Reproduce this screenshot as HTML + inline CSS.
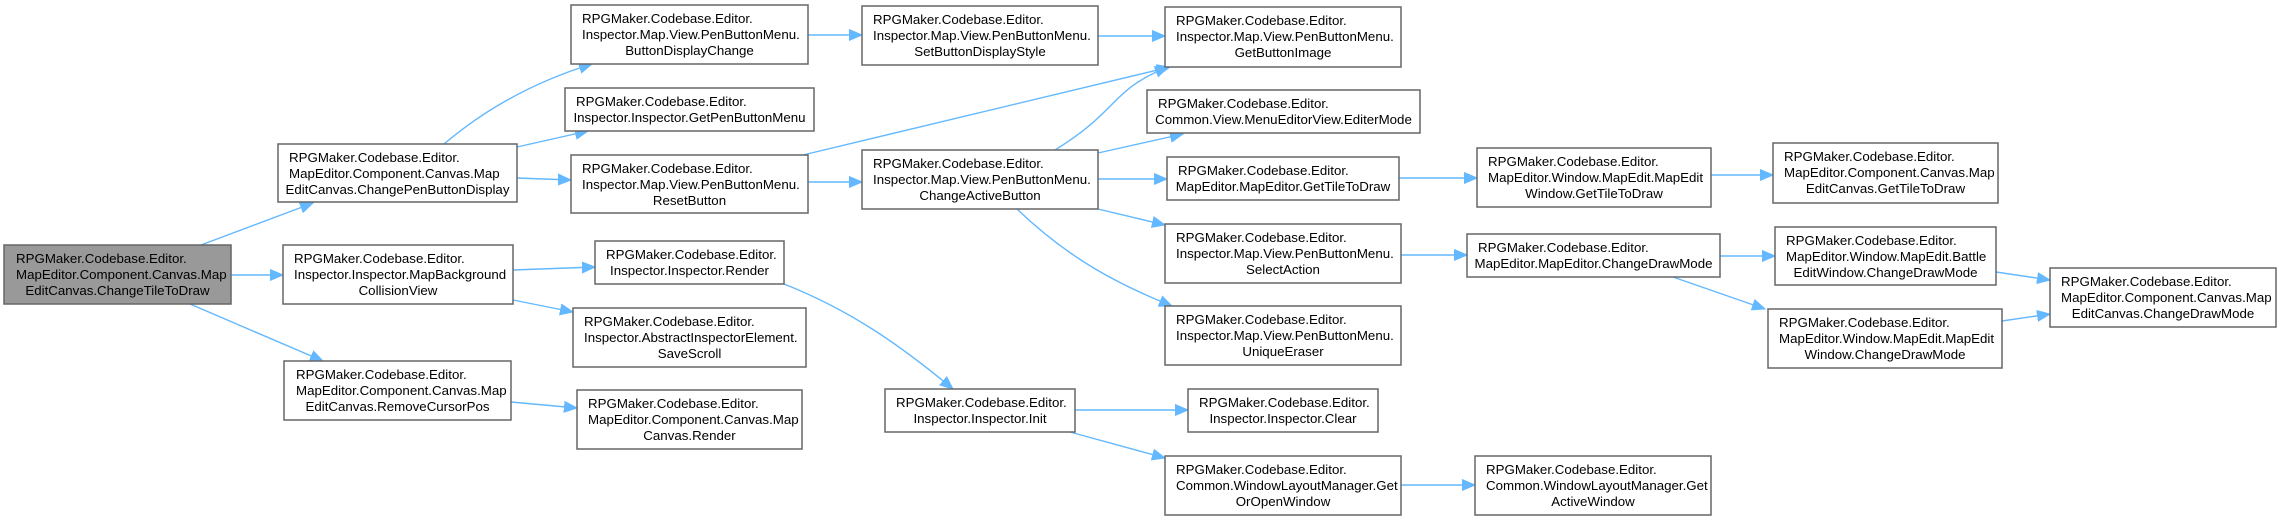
<!DOCTYPE html>
<html><head><meta charset="utf-8"><style>
html,body{margin:0;padding:0;background:#fff;}
svg{display:block;}
text{font-family:"Liberation Sans",Arial,sans-serif;font-size:13.3px;fill:#000;}
.b{fill:#fff;stroke:#666;stroke-width:1.5;}
.r{fill:#999;stroke:#666;stroke-width:1.5;}
.e{fill:none;stroke:#63b8ff;stroke-width:1.4;marker-end:url(#ah);}
.c{text-anchor:middle;}
</style></head><body>
<svg width="2281" height="520" viewBox="0 0 2281 520" xmlns="http://www.w3.org/2000/svg">
<defs><marker id="ah" markerUnits="userSpaceOnUse" markerWidth="14" markerHeight="12" refX="13" refY="6" orient="auto"><path d="M0,0.5 L13,6 L0,11.5 z" fill="#63b8ff" stroke="#63b8ff"/></marker></defs>

<!-- edges -->
<path class="e" d="M201,245 L313,203"/>
<path class="e" d="M231,275 L283,275"/>
<path class="e" d="M190,304 L323,361"/>
<path class="e" d="M444,144 C490,105 540,80 592,64"/>
<path class="e" d="M517,147 L588,131"/>
<path class="e" d="M517,178 L571,180"/>
<path class="e" d="M803,155 L1170,67"/>
<path class="e" d="M808,182 L862,182"/>
<path class="e" d="M808,35 L862,35"/>
<path class="e" d="M1098,36 L1165,36"/>
<path class="e" d="M1055,150 C1120,110 1110,90 1168,67"/>
<path class="e" d="M1098,153 L1183,134"/>
<path class="e" d="M1098,179 L1167,179"/>
<path class="e" d="M1098,209 L1165,225"/>
<path class="e" d="M1017,209 C1070,260 1120,285 1172,306"/>
<path class="e" d="M513,270 L595,267"/>
<path class="e" d="M513,300 L573,312"/>
<path class="e" d="M511,402 L577,408"/>
<path class="e" d="M784,284 C850,310 900,345 953,389"/>
<path class="e" d="M1075,410 L1188,410"/>
<path class="e" d="M1070,432 L1165,458"/>
<path class="e" d="M1401,485 L1475,485"/>
<path class="e" d="M1399,178 L1477,178"/>
<path class="e" d="M1711,175 L1773,175"/>
<path class="e" d="M1401,255 L1467,255"/>
<path class="e" d="M1720,256 L1775,256"/>
<path class="e" d="M1673,277 L1765,309"/>
<path class="e" d="M1996,272 L2050,280"/>
<path class="e" d="M2002,321 L2050,314"/>

<!-- nodes -->
<rect class="r" x="4" y="245" width="227" height="59"/>
<text x="16" y="263">RPGMaker.Codebase.Editor.</text><text x="16" y="279">MapEditor.Component.Canvas.Map</text><text class="c" x="117.5" y="295">EditCanvas.ChangeTileToDraw</text>

<rect class="b" x="278" y="144" width="239" height="58"/>
<text x="289" y="162">RPGMaker.Codebase.Editor.</text><text x="289" y="178">MapEditor.Component.Canvas.Map</text><text class="c" x="397.5" y="194">EditCanvas.ChangePenButtonDisplay</text>

<rect class="b" x="283" y="245" width="230" height="59"/>
<text x="294" y="263">RPGMaker.Codebase.Editor.</text><text x="294" y="279">Inspector.Inspector.MapBackground</text><text class="c" x="398" y="295">CollisionView</text>

<rect class="b" x="284" y="361" width="227" height="59"/>
<text x="296" y="379">RPGMaker.Codebase.Editor.</text><text x="296" y="395">MapEditor.Component.Canvas.Map</text><text class="c" x="397.5" y="411">EditCanvas.RemoveCursorPos</text>

<rect class="b" x="571" y="5" width="237" height="59"/>
<text x="582" y="23">RPGMaker.Codebase.Editor.</text><text x="582" y="39">Inspector.Map.View.PenButtonMenu.</text><text class="c" x="689.5" y="55">ButtonDisplayChange</text>

<rect class="b" x="565" y="88" width="249" height="43"/>
<text x="576" y="106">RPGMaker.Codebase.Editor.</text><text class="c" x="689.5" y="122">Inspector.Inspector.GetPenButtonMenu</text>

<rect class="b" x="571" y="155" width="237" height="58"/>
<text x="582" y="173">RPGMaker.Codebase.Editor.</text><text x="582" y="189">Inspector.Map.View.PenButtonMenu.</text><text class="c" x="689.5" y="205">ResetButton</text>

<rect class="b" x="595" y="241" width="189" height="43"/>
<text x="606" y="259">RPGMaker.Codebase.Editor.</text><text class="c" x="689.5" y="275">Inspector.Inspector.Render</text>

<rect class="b" x="573" y="308" width="233" height="59"/>
<text x="584" y="326">RPGMaker.Codebase.Editor.</text><text x="584" y="342">Inspector.AbstractInspectorElement.</text><text class="c" x="689.5" y="358">SaveScroll</text>

<rect class="b" x="577" y="390" width="225" height="59"/>
<text x="588" y="408">RPGMaker.Codebase.Editor.</text><text x="588" y="424">MapEditor.Component.Canvas.Map</text><text class="c" x="689.5" y="440">Canvas.Render</text>

<rect class="b" x="862" y="6" width="236" height="59"/>
<text x="873" y="24">RPGMaker.Codebase.Editor.</text><text x="873" y="40">Inspector.Map.View.PenButtonMenu.</text><text class="c" x="980" y="56">SetButtonDisplayStyle</text>

<rect class="b" x="862" y="150" width="236" height="59"/>
<text x="873" y="168">RPGMaker.Codebase.Editor.</text><text x="873" y="184">Inspector.Map.View.PenButtonMenu.</text><text class="c" x="980" y="200">ChangeActiveButton</text>

<rect class="b" x="885" y="389" width="190" height="43"/>
<text x="896" y="407">RPGMaker.Codebase.Editor.</text><text class="c" x="980" y="423">Inspector.Inspector.Init</text>

<rect class="b" x="1165" y="7" width="236" height="60"/>
<text x="1176" y="25">RPGMaker.Codebase.Editor.</text><text x="1176" y="41">Inspector.Map.View.PenButtonMenu.</text><text class="c" x="1283" y="57">GetButtonImage</text>

<rect class="b" x="1147" y="90" width="273" height="43"/>
<text x="1158" y="108">RPGMaker.Codebase.Editor.</text><text class="c" x="1283.5" y="124">Common.View.MenuEditorView.EditerMode</text>

<rect class="b" x="1167" y="157" width="232" height="43"/>
<text x="1178" y="175">RPGMaker.Codebase.Editor.</text><text class="c" x="1283" y="191">MapEditor.MapEditor.GetTileToDraw</text>

<rect class="b" x="1165" y="224" width="236" height="59"/>
<text x="1176" y="242">RPGMaker.Codebase.Editor.</text><text x="1176" y="258">Inspector.Map.View.PenButtonMenu.</text><text class="c" x="1283" y="274">SelectAction</text>

<rect class="b" x="1165" y="306" width="236" height="59"/>
<text x="1176" y="324">RPGMaker.Codebase.Editor.</text><text x="1176" y="340">Inspector.Map.View.PenButtonMenu.</text><text class="c" x="1283" y="356">UniqueEraser</text>

<rect class="b" x="1188" y="389" width="190" height="43"/>
<text x="1199" y="407">RPGMaker.Codebase.Editor.</text><text class="c" x="1283" y="423">Inspector.Inspector.Clear</text>

<rect class="b" x="1165" y="456" width="236" height="59"/>
<text x="1176" y="474">RPGMaker.Codebase.Editor.</text><text x="1176" y="490">Common.WindowLayoutManager.Get</text><text class="c" x="1283" y="506">OrOpenWindow</text>

<rect class="b" x="1477" y="148" width="234" height="59"/>
<text x="1488" y="166">RPGMaker.Codebase.Editor.</text><text x="1488" y="182">MapEditor.Window.MapEdit.MapEdit</text><text class="c" x="1594" y="198">Window.GetTileToDraw</text>

<rect class="b" x="1467" y="234" width="253" height="43"/>
<text x="1478" y="252">RPGMaker.Codebase.Editor.</text><text class="c" x="1593.5" y="268">MapEditor.MapEditor.ChangeDrawMode</text>

<rect class="b" x="1475" y="456" width="236" height="59"/>
<text x="1486" y="474">RPGMaker.Codebase.Editor.</text><text x="1486" y="490">Common.WindowLayoutManager.Get</text><text class="c" x="1593" y="506">ActiveWindow</text>

<rect class="b" x="1773" y="143" width="225" height="60"/>
<text x="1784" y="161">RPGMaker.Codebase.Editor.</text><text x="1784" y="177">MapEditor.Component.Canvas.Map</text><text class="c" x="1885.5" y="193">EditCanvas.GetTileToDraw</text>

<rect class="b" x="1775" y="227" width="221" height="58"/>
<text x="1786" y="245">RPGMaker.Codebase.Editor.</text><text x="1786" y="261">MapEditor.Window.MapEdit.Battle</text><text class="c" x="1885.5" y="277">EditWindow.ChangeDrawMode</text>

<rect class="b" x="1768" y="309" width="234" height="59"/>
<text x="1779" y="327">RPGMaker.Codebase.Editor.</text><text x="1779" y="343">MapEditor.Window.MapEdit.MapEdit</text><text class="c" x="1885" y="359">Window.ChangeDrawMode</text>

<rect class="b" x="2050" y="268" width="226" height="59"/>
<text x="2061" y="286">RPGMaker.Codebase.Editor.</text><text x="2061" y="302">MapEditor.Component.Canvas.Map</text><text class="c" x="2163" y="318">EditCanvas.ChangeDrawMode</text>
</svg>
</body></html>
